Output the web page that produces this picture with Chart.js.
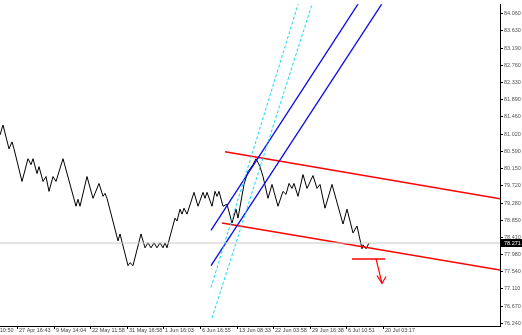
<!DOCTYPE html>
<html>
<head>
<meta charset="UTF-8">
<title>Renko chart</title>
<script src="https://cdn.jsdelivr.net/npm/chart.js"></script>
<style>
  html, body { margin: 0; padding: 0; background: #fff; }
  #wrap { width: 522px; height: 335px; position: relative; }
</style>
</head>
<body>
<div id="wrap"><canvas id="graphe"></canvas></div>
<script>
// bar number (left to right) and close price of each turn of the line
const barIdx = [0, 3, 9, 12, 14, 22, 28, 31, 33, 37, 39, 43, 46, 49, 53, 56, 63, 76, 78, 80,
  87, 93, 99, 103, 105, 107, 118, 120, 128, 130, 133, 141, 145, 148, 151, 154, 157, 160, 163, 165,
  167, 175, 177, 180, 182, 184, 187, 194, 198, 203, 205, 207, 212, 215, 217, 219, 223, 227, 232, 236,
  238, 244, 248, 253, 256, 260, 263, 268, 272, 278, 283, 286, 289, 292, 294, 298, 303, 307, 313, 317,
  320, 325, 332, 343, 347, 353, 357, 362, 363, 366, 369];
const closePrice = [81.00, 81.25, 80.65, 80.825, 80.65, 79.825, 80.40, 80.25, 80.40, 80.025, 80.20, 79.825, 79.95, 79.575, 79.95, 79.825, 80.40, 79.20, 79.375, 79.20,
  79.95, 79.40, 79.775, 79.45, 79.525, 79.40, 78.325, 78.50, 77.70, 77.775, 77.70, 78.50, 78.15, 78.275, 78.15, 78.275, 78.15, 78.275, 78.15, 78.275,
  78.15, 78.90, 78.825, 79.125, 79.00, 79.15, 79.00, 79.55, 79.20, 79.55, 79.40, 79.55, 79.20, 79.575, 79.45, 79.575, 79.20, 79.25, 78.775, 79.125,
  78.90, 79.75, 80.075, 80.25, 80.40, 80.20, 79.95, 79.40, 79.75, 79.20, 79.575, 79.50, 79.775, 79.65, 79.775, 79.45, 80.00, 79.65, 79.975, 79.65,
  79.75, 79.15, 79.75, 78.75, 79.125, 78.525, 78.70, 78.125, 78.225, 78.125, 78.271];

const lastPrice = 78.271;

// drawn objects: [bar, price] end points
const redUpper = [[225, 80.575], [500, 79.39]];
const redLower = [[222, 78.775], [500, 77.59]];
const redFlat = [[352, 77.867], [385, 77.867]];
const redArrow = [[376, 77.875], [382, 77.25]];
const redArrowHead = [[377, 77.45], [382, 77.25], [386, 77.425]];
const blueOne = [[211, 78.59], [362, 84.46]];
const blueTwo = [[211, 77.70], [386, 84.47]];
const cyanOne = [[211, 77.15], [299, 84.38]];
const cyanTwo = [[212, 76.375], [313, 84.38]];

// axes
const yTickVals = [84.06, 83.63, 83.19, 82.76, 82.33, 81.89, 81.46, 81.02, 80.59, 80.15,
  79.72, 79.28, 78.85, 78.41, 77.98, 77.54, 77.11, 76.67, 76.24];
const xTickPos = [-20, 17, 54, 90, 127, 163, 200, 237, 273, 310, 346, 383];
const xTickText = ['26 Apr 10:50', '27 Apr 16:43', '9 May 14:04', '22 May 11:58', '31 May 16:58', '1 Jun 16:03',
  '6 Jun 16:55', '13 Jun 08:33', '22 Jun 03:58', '29 Jun 16:38', '6 Jul 10:51', '20 Jul 03:17'];

const petitePolice = '5.5px "Liberation Sans", Arial, sans-serif';

function pts(arr) { return arr.map(p => ({ x: p[0], y: p[1] })); }
function trait(data, color, width, dash) {
  return { data: pts(data), borderColor: color, borderWidth: width, borderDash: dash || [],
    pointRadius: 0, fill: false };
}

// cadre, axe du temps et etiquette du dernier prix
const cadrePlugin = {
  id: 'cadre',
  afterDraw(chart) {
    const ctx = chart.ctx;
    const xs = chart.scales.x, ys = chart.scales.y;
    const a = chart.chartArea;
    ctx.save();
    ctx.strokeStyle = '#000';
    ctx.lineWidth = 1;
    ctx.beginPath();
    ctx.moveTo(0, a.bottom + 0.5);
    ctx.lineTo(a.right + 0.5, a.bottom + 0.5);
    ctx.stroke();
    ctx.font = petitePolice;
    ctx.fillStyle = '#444';
    ctx.textBaseline = 'top';
    xTickPos.forEach((v, i) => {
      const px = Math.round(xs.getPixelForValue(v)) + 0.5;
      ctx.beginPath();
      ctx.moveTo(px, a.bottom);
      ctx.lineTo(px, a.bottom + 3);
      ctx.stroke();
      ctx.fillText(xTickText[i], px + 1.5, a.bottom + 2);
    });
    const py = Math.round(ys.getPixelForValue(lastPrice));
    ctx.fillStyle = '#000';
    ctx.fillRect(a.right + 1, py - 4, 22, 8);
    ctx.fillStyle = '#fff';
    ctx.textBaseline = 'middle';
    ctx.fillText(lastPrice.toFixed(3), a.right + 4, py);
    ctx.restore();
  }
};

new Chart(document.getElementById('graphe'), {
  type: 'line',
  data: {
    datasets: [
      trait([[0, lastPrice], [500, lastPrice]], '#c8c8c8', 1),
      trait(cyanOne, '#10d8f8', 1, [3, 2]),
      trait(cyanTwo, '#10d8f8', 1, [3, 2]),
      trait(blueOne, '#0a0ae6', 1.3),
      trait(blueTwo, '#0a0ae6', 1.3),
      trait(redUpper, '#ff0000', 1.4),
      trait(redLower, '#ff0000', 1.4),
      trait(redFlat, '#ff0000', 1.4),
      trait(redArrow, '#ff0000', 1.2),
      trait(redArrowHead, '#ff0000', 1.2),
      { data: barIdx.map((b, i) => ({ x: b, y: closePrice[i] })), borderColor: '#000', borderWidth: 1,
        pointRadius: 0, fill: false }
    ]
  },
  options: {
    responsive: true,
    maintainAspectRatio: false,
    animation: false,
    events: [],
    layout: { padding: { top: 1, bottom: 9, left: 0, right: 0 } },
    plugins: { legend: { display: false }, tooltip: { enabled: false } },
    scales: {
      x: { type: 'linear', min: 0, max: 500, display: false },
      y: {
        position: 'right',
        min: 76.175,
        max: 84.30,
        afterBuildTicks(scale) { scale.ticks = yTickVals.map(v => ({ value: v })); },
        afterFit(scale) { scale.width = 22; },
        border: { display: true, color: '#000', width: 1 },
        grid: { drawOnChartArea: false, color: '#000', tickLength: 3 },
        ticks: {
          autoSkip: false,
          padding: 1,
          color: '#555',
          font: { size: 5.5, family: '"Liberation Sans", Arial, sans-serif' },
          callback: v => Number(v).toFixed(3)
        }
      }
    }
  },
  plugins: [cadrePlugin]
});
</script>
</body>
</html>
